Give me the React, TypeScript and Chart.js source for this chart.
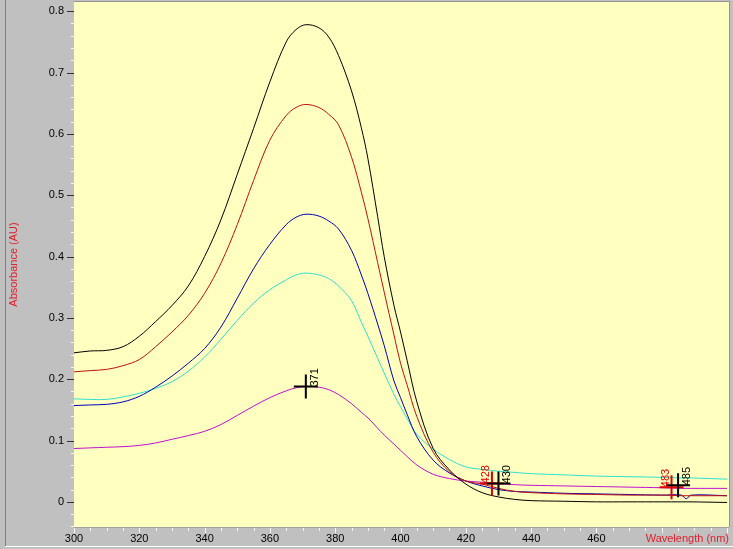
import React, { useEffect, useRef } from 'react';
import { Chart, registerables } from 'chart.js';

Chart.register(...registerables);

// Wavelength grid (nm)
const wavelengths = [300, 305, 310, 315, 320, 325, 330, 335, 340, 345, 350, 355, 360, 365, 368, 371, 375, 378, 381, 385, 388, 390, 393, 395, 398, 400, 402, 405, 410, 415, 420, 425, 430, 435, 440, 450, 460, 470, 480, 486, 487.5, 489, 500];

// Absorbance series (AU)
const absBlack = [0.243, 0.246, 0.247, 0.253, 0.270, 0.294, 0.320, 0.352, 0.400, 0.460, 0.534, 0.609, 0.685, 0.750, 0.770, 0.778, 0.773, 0.758, 0.728, 0.670, 0.610, 0.560, 0.465, 0.400, 0.320, 0.277, 0.231, 0.163, 0.087, 0.052, 0.029, 0.015, 0.008, 0.004, 0.002, 0.001, 0.000, 0.000, 0.000, 0.000, 0.000, 0.000, -0.001];
const absRed = [0.212, 0.214, 0.216, 0.222, 0.232, 0.253, 0.277, 0.304, 0.340, 0.389, 0.452, 0.524, 0.590, 0.630, 0.643, 0.648, 0.643, 0.632, 0.615, 0.562, 0.505, 0.462, 0.390, 0.342, 0.272, 0.226, 0.191, 0.139, 0.081, 0.049, 0.034, 0.029, 0.022, 0.017, 0.015, 0.013, 0.012, 0.011, 0.011, 0.010, 0.010, 0.010, 0.010];
const absBlue = [0.157, 0.158, 0.159, 0.163, 0.172, 0.187, 0.205, 0.226, 0.250, 0.285, 0.332, 0.380, 0.420, 0.452, 0.464, 0.469, 0.466, 0.458, 0.445, 0.410, 0.370, 0.340, 0.290, 0.255, 0.197, 0.170, 0.143, 0.106, 0.068, 0.047, 0.034, 0.026, 0.020, 0.017, 0.016, 0.014, 0.013, 0.012, 0.011, 0.011, 0.005, 0.011, 0.010];
const absCyan = [0.168, 0.167, 0.167, 0.171, 0.177, 0.185, 0.196, 0.213, 0.236, 0.265, 0.296, 0.324, 0.346, 0.362, 0.370, 0.373, 0.370, 0.364, 0.352, 0.328, 0.293, 0.270, 0.234, 0.210, 0.175, 0.155, 0.136, 0.110, 0.086, 0.069, 0.057, 0.053, 0.050, 0.048, 0.046, 0.044, 0.042, 0.041, 0.040, 0.039, 0.039, 0.039, 0.037];
const absMagenta = [0.087, 0.088, 0.089, 0.090, 0.092, 0.096, 0.102, 0.108, 0.115, 0.126, 0.141, 0.156, 0.170, 0.181, 0.186, 0.188, 0.187, 0.183, 0.175, 0.160, 0.146, 0.137, 0.120, 0.109, 0.094, 0.084, 0.074, 0.060, 0.045, 0.038, 0.034, 0.032, 0.030, 0.028, 0.027, 0.026, 0.025, 0.024, 0.023, 0.022, 0.022, 0.022, 0.022];

// Peak / cursor markers
const markerBlackWl = [371, 430, 485];
const markerBlackAbs = [0.188, 0.030, 0.027];
const markerRedWl = [428, 483];
const markerRedAbs = [0.030, 0.024];

// Tick labels
const xTickLabels = ['300', '320', '340', '360', '380', '400', '420', '440', '460'];
const yTickLabels = ['0', '0.1', '0.2', '0.3', '0.4', '0.5', '0.6', '0.7', '0.8'];

const FONT = '"Liberation Sans", Arial, sans-serif';
const TITLE_RED = '#e0202c';
const MARK_RED = '#e00000';

const toPoints = (xs: number[], ys: number[]) => xs.map((x, i) => ({ x, y: ys[i] }));

const framePlugin = {
  id: 'frame',
  beforeDraw(chart: any) {
    const { ctx, chartArea: a, width, height } = chart;
    ctx.save();
    ctx.fillStyle = '#c0c0c0';
    ctx.fillRect(0, 0, width, height);
    ctx.strokeStyle = '#808080';
    ctx.lineWidth = 1;
    ctx.beginPath();
    ctx.moveTo(5.5, 0);
    ctx.lineTo(5.5, 546);
    ctx.stroke();
    ctx.strokeStyle = '#ffffff';
    ctx.beginPath();
    ctx.moveTo(5, 546.5);
    ctx.lineTo(width, 546.5);
    ctx.stroke();
    ctx.fillStyle = '#ffffc0';
    ctx.fillRect(a.left, a.top, a.right - a.left, a.bottom - a.top);
    ctx.strokeStyle = '#949494';
    ctx.beginPath();
    ctx.moveTo(a.left, a.top - 0.5);
    ctx.lineTo(a.right + 0.5, a.top - 0.5);
    ctx.lineTo(a.right + 0.5, a.bottom);
    ctx.stroke();
    ctx.strokeStyle = '#a0a0a0';
    ctx.beginPath();
    ctx.moveTo(a.left, a.bottom + 0.5);
    ctx.lineTo(a.right, a.bottom + 0.5);
    ctx.stroke();
    ctx.restore();
  },
  afterDraw(chart: any) {
    const { ctx, chartArea: a, scales } = chart;
    const xs = scales.x;
    const ys = scales.y;
    ctx.save();
    ctx.lineWidth = 1;
    for (let k = -2; k <= 40; k++) {
      const v = k * 0.02;
      const py = Math.round(ys.getPixelForValue(v)) + 0.5;
      const major = k % 5 === 0;
      ctx.strokeStyle = major ? '#303030' : '#f4f4f4';
      ctx.beginPath();
      ctx.moveTo(a.left - (major ? 7 : 3), py);
      ctx.lineTo(a.left, py);
      ctx.stroke();
    }
    for (let k = 0; k <= 40; k++) {
      const v = 300 + k * 5;
      const px = Math.round(xs.getPixelForValue(v)) + 0.5;
      const major = k % 4 === 0;
      ctx.strokeStyle = '#f4f4f4';
      ctx.beginPath();
      ctx.moveTo(px, a.bottom + 1);
      ctx.lineTo(px, a.bottom + (major ? 6 : 4));
      ctx.stroke();
    }
    ctx.restore();
  },
};

const markerLabelPlugin = {
  id: 'markerLabels',
  afterDatasetsDraw(chart: any) {
    const { ctx, scales } = chart;
    const xs = scales.x;
    const ys = scales.y;
    ctx.save();
    ctx.font = '11px ' + FONT;
    ctx.textAlign = 'left';
    ctx.textBaseline = 'alphabetic';
    const draw = (wl: number, v: number, color: string, offset: number) => {
      const px = xs.getPixelForValue(wl);
      const py = ys.getPixelForValue(v);
      ctx.save();
      ctx.translate(px, py);
      ctx.rotate(-Math.PI / 2);
      ctx.fillStyle = color;
      ctx.fillText(String(wl), 0, offset);
      ctx.restore();
    };
    markerBlackWl.forEach((wl, i) => draw(wl, markerBlackAbs[i], '#000000', 12));
    markerRedWl.forEach((wl, i) => draw(wl, markerRedAbs[i], MARK_RED, -3));
    ctx.restore();
  },
};

export default function App() {
  const canvasRef = useRef<HTMLCanvasElement | null>(null);

  useEffect(() => {
    const canvas = canvasRef.current;
    if (!canvas) return;
    const lineDs = (label: string, ys: number[], color: string) => ({
      type: 'line' as const,
      label,
      data: toPoints(wavelengths, ys),
      borderColor: color,
      backgroundColor: color,
      borderWidth: 1,
      pointRadius: 0,
      tension: 0.35,
      fill: false,
    });
    const markerDs = (label: string, xs: number[], ys: number[], color: string) => ({
      type: 'scatter' as const,
      label,
      data: toPoints(xs, ys),
      pointStyle: 'cross' as const,
      pointRadius: 12,
      pointBorderWidth: 2,
      borderColor: color,
      backgroundColor: color,
      showLine: false,
    });

    const chart = new Chart(canvas, {
      type: 'line',
      data: {
        datasets: [
          markerDs('markers black', markerBlackWl, markerBlackAbs, '#000000'),
          markerDs('markers red', markerRedWl, markerRedAbs, MARK_RED),
          lineDs('Sample 1', absBlack, '#000000'),
          lineDs('Sample 2', absRed, '#c01010'),
          lineDs('Sample 3', absBlue, '#0000b8'),
          lineDs('Sample 4', absCyan, '#30e0d0'),
          lineDs('Sample 5', absMagenta, '#c010d0'),
        ] as any,
      },
      options: {
        responsive: false,
        devicePixelRatio: 1,
        animation: false,
        events: [],
        layout: { autoPadding: false, padding: { left: 0, top: 2, right: 4, bottom: 0 } },
        plugins: {
          legend: { display: false },
          tooltip: { enabled: false },
        },
        scales: {
          x: {
            type: 'linear',
            min: 300,
            max: 500.6,
            grid: { display: false, drawTicks: false },
            border: { display: false },
            ticks: {
              stepSize: 20,
              includeBounds: false,
              autoSkip: false,
              maxRotation: 0,
              padding: 5,
              color: '#000000',
              font: { family: FONT, size: 11 },
              callback: (value: any) => {
                const s = String(Math.round(Number(value)));
                return xTickLabels.includes(s) ? s : '';
              },
            },
            title: {
              display: true,
              text: 'Wavelength (nm)',
              align: 'end',
              color: TITLE_RED,
              font: { family: FONT, size: 11 },
              padding: { top: 0, bottom: 3 },
            },
            afterFit: (s: any) => {
              s.height = 22;
              s.paddingLeft = 0;
              s.paddingRight = 0;
            },
          },
          y: {
            type: 'linear',
            min: -0.041,
            max: 0.815,
            grid: { display: false, drawTicks: false },
            border: { display: false },
            ticks: {
              stepSize: 0.1,
              includeBounds: false,
              autoSkip: false,
              padding: 10,
              color: '#000000',
              font: { family: FONT, size: 11 },
              callback: (value: any) => {
                const n = Math.round(Number(value) * 10) / 10;
                const s = Math.abs(n) < 1e-9 ? '0' : String(n);
                return yTickLabels.includes(s) ? s : '';
              },
            },
            title: {
              display: true,
              text: 'Absorbance (AU)',
              color: TITLE_RED,
              font: { family: FONT, size: 11 },
              padding: { top: 7, bottom: 0 },
            },
            afterFit: (s: any) => {
              s.width = 74;
              s.paddingTop = 0;
              s.paddingBottom = 0;
            },
          },
        },
      } as any,
      plugins: [framePlugin, markerLabelPlugin],
    });
    return () => chart.destroy();
  }, []);

  return (
    <div style={{ position: 'fixed', left: 0, top: 0, width: 733, height: 549 }}>
      <canvas ref={canvasRef} width={733} height={549} style={{ display: 'block', width: 733, height: 549 }} />
    </div>
  );
}
